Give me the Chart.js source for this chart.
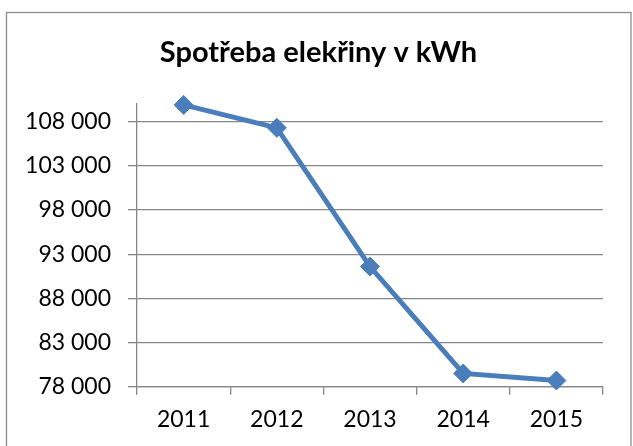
<!DOCTYPE html>
<html>
<head>
<meta charset="utf-8">
<script src="https://cdn.jsdelivr.net/npm/chart.js@4.4.1/dist/chart.umd.min.js"></script>
<style>
    html, body { margin: 0; padding: 0; background: #fff; }
    canvas { display: block; }
</style>
</head>
<body>
<canvas id="spotrebaChart" width="633" height="446"></canvas>
<script>
const years = ['2011', '2012', '2013', '2014', '2015'];
const consumption = [109900, 107300, 91600, 79500, 78700];
const yTickValues = [78000, 83000, 88000, 93000, 98000, 103000, 108000];
const chartTitle = 'Spotřeba elekřiny v kWh';

(function (window, document) {
    const GRID = '#868686';
    const LINE = '#4a7ebb';
    const FONT = "Lato, 'Open Sans', sans-serif";

    function formatThousands(value) {
        return String(value).replace(/\B(?=(\d{3})+(?!\d))/g, ' ');
    }

    // outer frame of the chart object (bottom edge falls off the picture)
    const framePlugin = {
        id: 'frame',
        beforeDraw(chart) {
            const ctx = chart.ctx;
            ctx.save();
            ctx.strokeStyle = '#8c8c8c';
            ctx.lineWidth = 1.3;
            ctx.strokeRect(6.5, 12.5, 624.5, 520);
            ctx.restore();
        }
    };

    function renderChart() {
        const canvas = document.getElementById('spotrebaChart');
        if (!canvas || typeof Chart === 'undefined') return;

        new Chart(canvas, {
            type: 'line',
            data: {
                labels: years,
                datasets: [{
                    label: chartTitle,
                    data: consumption,
                    borderColor: LINE,
                    backgroundColor: LINE,
                    borderWidth: 5,
                    pointStyle: 'rectRot',
                    pointRadius: 9.5,
                    pointHoverRadius: 9.5,
                    pointBorderWidth: 1,
                    pointBackgroundColor: LINE,
                    pointBorderColor: LINE,
                    tension: 0,
                    clip: false
                }]
            },
            options: {
                responsive: false,
                animation: false,
                layout: { padding: { left: 4, right: 0, top: 0, bottom: 0 } },
                plugins: {
                    legend: { display: false },
                    tooltip: { enabled: false },
                    title: {
                        display: true,
                        text: chartTitle,
                        color: '#000',
                        font: { family: FONT, size: 29, weight: 'bold', lineHeight: 1.2 },
                        padding: { top: 35.6, bottom: 33.6 }
                    }
                },
                scales: {
                    x: {
                        type: 'category',
                        offset: true,
                        grid: {
                            offset: true,
                            drawOnChartArea: false,
                            tickLength: 8,
                            color: GRID,
                            lineWidth: 1.3
                        },
                        border: { color: GRID, width: 1.3 },
                        ticks: {
                            color: '#000',
                            padding: 11.5,
                            font: { family: FONT, size: 23 },
                            maxRotation: 0
                        },
                        afterFit(scale) { scale.height = 59.3; }
                    },
                    y: {
                        min: 78000,
                        max: 110000,
                        grid: {
                            tickLength: 9,
                            color: GRID,
                            lineWidth: 1.3
                        },
                        border: { color: GRID, width: 1.3 },
                        ticks: {
                            color: '#000',
                            padding: 17,
                            font: { family: FONT, size: 23 },
                            callback: value => formatThousands(value)
                        },
                        afterBuildTicks(scale) {
                            scale.ticks = yTickValues.map(v => ({ value: v }));
                        },
                        afterFit(scale) { scale.width = 133; }
                    },
                    // empty right-hand strip so the plot ends where the reference's does
                    spacer: {
                        position: 'right',
                        grid: { display: false },
                        border: { display: false },
                        ticks: { display: false },
                        afterFit(scale) { scale.width = 30; }
                    }
                }
            },
            plugins: [framePlugin]
        });
    }

    document.addEventListener('DOMContentLoaded', () => {
        if (document.fonts && document.fonts.load) {
            Promise.all([
                document.fonts.load("bold 29px Lato"),
                document.fonts.load("23px Lato")
            ]).then(renderChart, renderChart);
        } else {
            renderChart();
        }
    });
})(window, document);
</script>
</body>
</html>
